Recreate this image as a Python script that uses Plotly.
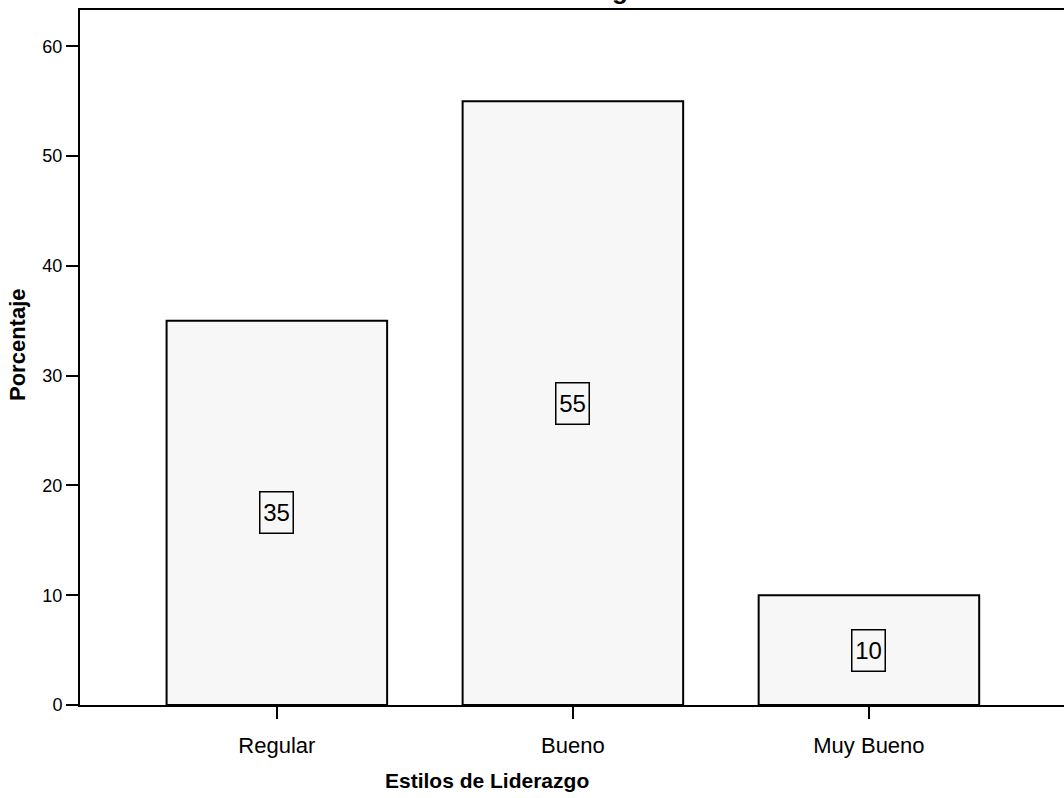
import plotly.graph_objects as go

# Data
categories = ["Regular", "Bueno", "Muy Bueno"]
percentages = [35, 55, 10]
y_ticks = [0, 10, 20, 30, 40, 50, 60]

FONT = "Liberation Sans, Arial, sans-serif"

fig = go.Figure()

fig.add_trace(go.Bar(
    x=categories,
    y=percentages,
    width=0.745,
    marker=dict(color="#f7f7f7", line=dict(color="black", width=2)),
    hoverinfo="skip",
    showlegend=False,
))

# Value labels in boxes at mid-height of each bar
for cat, val in zip(categories, percentages):
    fig.add_annotation(
        x=cat, y=val / 2, xref="x", yref="y",
        text=str(val), showarrow=False,
        font=dict(family=FONT, size=24, color="black"),
        width=28, height=36,
        bordercolor="black", borderwidth=1.5, borderpad=2,
        bgcolor="rgba(255,255,255,0)",
    )

# Chart title, sitting above the plot frame
fig.add_annotation(
    x=0.445, y=1, xref="paper", yref="paper",
    xanchor="center", yanchor="bottom", yshift=3,
    text="<b>Estilos de Liderazgo</b>", showarrow=False,
    font=dict(family=FONT, size=26, color="black"),
)

# Axis titles
fig.add_annotation(
    x=0.414, y=-0.0, xref="paper", yref="paper",
    xanchor="center", yanchor="middle", yshift=-75,
    text="<b>Estilos de Liderazgo</b>", showarrow=False,
    font=dict(family=FONT, size=21, color="black"),
)
fig.add_annotation(
    x=0, y=0.518, xref="paper", yref="paper",
    xanchor="center", yanchor="middle", xshift=-62,
    text="<b>Porcentaje</b>", showarrow=False, textangle=-90,
    font=dict(family=FONT, size=22, color="black"),
)

fig.update_layout(
    width=1064, height=798,
    margin=dict(l=80, r=0, t=10, b=93),
    paper_bgcolor="white", plot_bgcolor="white",
    font=dict(family=FONT, color="black"),
)

fig.update_xaxes(
    range=[-0.665, 2.659],
    showline=True, linecolor="black", linewidth=2, mirror=True,
    ticks="outside", ticklen=12, tickwidth=2, tickcolor="black",
    ticklabelstandoff=8,
    tickfont=dict(family=FONT, size=22, color="black"),
    showgrid=False, zeroline=False,
)

fig.update_yaxes(
    range=[0, 63.3],
    tickmode="array", tickvals=y_ticks, ticktext=[str(v) for v in y_ticks],
    showline=True, linecolor="black", linewidth=2, mirror=False,
    ticks="outside", ticklen=12, tickwidth=2, tickcolor="black",
    tickfont=dict(family=FONT, size=18, color="black"),
    showgrid=False, zeroline=False,
)

fig.write_html("out.html")
